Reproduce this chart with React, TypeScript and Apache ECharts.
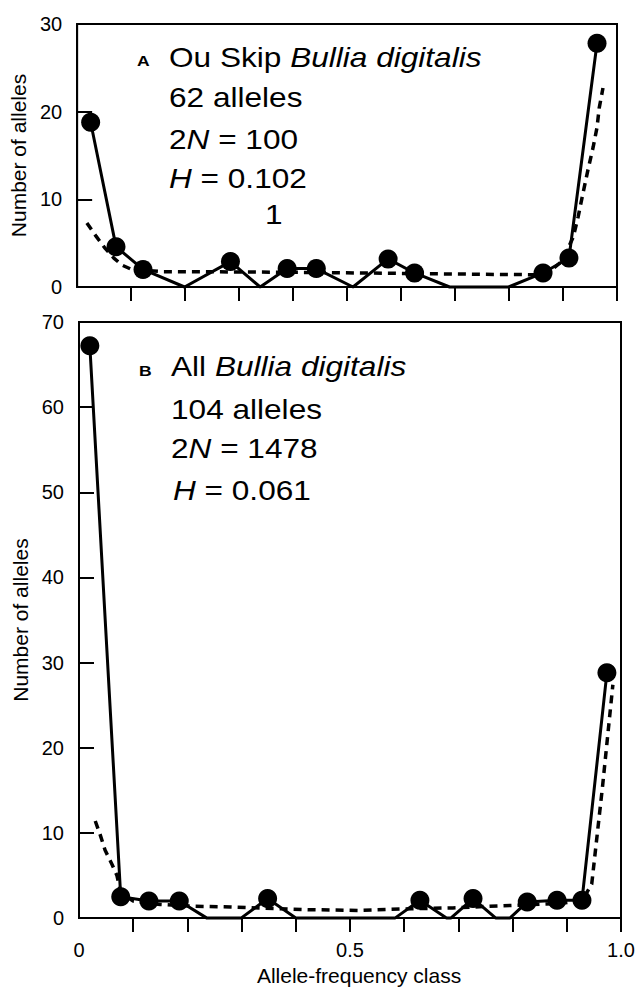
import React, { useEffect, useRef } from 'react';
import * as echarts from 'echarts';

const FONT = '"Liberation Sans", Arial, Helvetica, sans-serif';

// ---- Panel A: Ou Skip Bullia digitalis ----
const aObsX = [0.025, 0.072, 0.122, 0.199, 0.284, 0.339, 0.389, 0.443, 0.511, 0.576, 0.625, 0.69, 0.799, 0.863, 0.911, 0.963];
const aObsY = [18.8, 4.6, 2.0, 0, 2.9, 0, 2.1, 2.1, 0, 3.2, 1.6, 0, 0, 1.6, 3.3, 27.8];
const aExpX = [0.018, 0.035, 0.052, 0.068, 0.083, 0.101, 0.157, 0.3, 0.45, 0.6, 0.75, 0.849, 0.876, 0.899, 0.919, 0.928, 0.937, 0.946, 0.956, 0.963, 0.967, 0.974];
const aExpY = [7.3, 5.8, 4.4, 3.3, 2.5, 2.0, 1.75, 1.72, 1.65, 1.55, 1.45, 1.4, 1.8, 3.0, 5.7, 8.0, 10.7, 13.3, 16.0, 18.2, 20.4, 22.7];

// ---- Panel B: All Bullia digitalis ----
const bObsX = [0.02, 0.077, 0.129, 0.185, 0.236, 0.299, 0.348, 0.4, 0.583, 0.629, 0.678, 0.686, 0.727, 0.769, 0.795, 0.827, 0.882, 0.928, 0.974];
const bObsY = [67.2, 2.5, 2.0, 2.0, 0, 0, 2.3, 0, 0, 2.1, 0, 0, 2.3, 0, 0, 1.9, 2.1, 2.1, 28.8];
const bExpX = [0.03, 0.039, 0.048, 0.061, 0.07, 0.077, 0.1, 0.15, 0.21, 0.28, 0.417, 0.515, 0.613, 0.69, 0.803, 0.88, 0.928, 0.946, 0.966, 0.985];
const bExpY = [11.4, 9.8, 8.0, 6.3, 5.0, 3.0, 2.0, 1.6, 1.4, 1.3, 1.0, 0.9, 1.1, 1.2, 1.5, 1.7, 2.0, 4.0, 15.5, 27.4];

const xTickValues = [0.1, 0.2, 0.3, 0.4, 0.5, 0.6, 0.7, 0.8, 0.9, 1.0];
const xLabelValues = [0, 0.5, 1];
const yMaxA = 30;
const yMaxB = 70;

const xTitle = 'Allele-frequency class';
const yTitle = 'Number of alleles';

const pairs = (xs: number[], ys: number[]) => xs.map((x, i) => [x, ys[i]]);
const dots = (xs: number[], ys: number[]) => xs.map((x, i) => [x, ys[i]]).filter((p) => p[1] > 0);

const black = '#000';
const axisLineStyle = { color: black, width: 2 };

function makeX(gridIndex: number, showLabels: boolean) {
  return {
    gridIndex,
    type: 'value',
    min: 0,
    max: 1,
    interval: 0.1,
    axisLine: { show: true, lineStyle: axisLineStyle },
    axisTick: { show: true, inside: false, length: 14, lineStyle: axisLineStyle, customValues: xTickValues },
    axisLabel: showLabels
      ? {
          show: true,
          customValues: xLabelValues,
          formatter: (v: number) => (v === 1 ? '1.0' : v === 0 ? '0' : String(v)),
          fontSize: 20,
          color: black,
          fontFamily: FONT,
          margin: 22,
        }
      : { show: false },
    splitLine: { show: false },
    ...(showLabels
      ? {
          name: xTitle,
          nameLocation: 'middle',
          nameGap: 41,
          nameTextStyle: { fontSize: 21, color: black, fontFamily: FONT, padding: [0, 0, 0, 18] },
        }
      : {}),
  };
}

function makeY(gridIndex: number, max: number, gap: number) {
  return {
    gridIndex,
    type: 'value',
    min: 0,
    max,
    interval: 10,
    axisLine: { show: true, lineStyle: axisLineStyle },
    axisTick: { show: true, inside: true, length: 15, lineStyle: axisLineStyle },
    axisLabel: { fontSize: 20, color: black, fontFamily: FONT, margin: 15 },
    splitLine: { show: false },
    name: yTitle,
    nameLocation: 'middle',
    nameGap: gap,
    nameTextStyle: { fontSize: 21, color: black, fontFamily: FONT },
  };
}

function label(x: number, y: number, text: string, size = 27, bold = false) {
  return {
    type: 'text',
    x,
    y,
    scaleX: 1.17,
    style: {
      text,
      fontSize: size,
      fontFamily: FONT,
      fontWeight: bold ? 'bold' : 'normal',
      fill: black,
      verticalAlign: 'middle',
      align: 'left',
      rich: {
        i: { fontStyle: 'italic', fontSize: size, fontFamily: FONT, fill: black },
      },
    },
  };
}

export default function App() {
  const ref = useRef<HTMLDivElement>(null);
  useEffect(() => {
    if (!ref.current) return;
    const chart = echarts.init(ref.current, null, { renderer: 'svg' });
    const lineSeries = (xi: number, xs: number[], ys: number[], dashed: boolean) => ({
      type: 'line',
      xAxisIndex: xi,
      yAxisIndex: xi,
      data: pairs(xs, ys),
      symbol: 'none',
      clip: false,
      lineStyle: dashed
        ? { color: black, width: 3.5, type: [8, 6], cap: 'butt', opacity: 1 }
        : { color: black, width: 3, opacity: 1 },
      z: dashed ? 2 : 3,
    });
    const dotSeries = (xi: number, xs: number[], ys: number[]) => ({
      type: 'scatter',
      xAxisIndex: xi,
      yAxisIndex: xi,
      data: dots(xs, ys),
      symbol: 'circle',
      symbolSize: 19,
      clip: false,
      itemStyle: { color: black, opacity: 1 },
      z: 4,
    });
    chart.setOption({
      animation: false,
      backgroundColor: '#fff',
      textStyle: { fontFamily: FONT },
      grid: [
        { left: 75, top: 24, width: 542, height: 263, show: true, borderColor: black, borderWidth: 2 },
        { left: 79, top: 322, width: 542, height: 608, show: true, borderColor: black, borderWidth: 2 },
      ],
      xAxis: [makeX(0, false), makeX(1, true)],
      yAxis: [makeY(0, yMaxA, 36), makeY(1, yMaxB, 40)],
      series: [
        lineSeries(0, aExpX, aExpY, true),
        lineSeries(0, aObsX, aObsY, false),
        dotSeries(0, aObsX, aObsY),
        lineSeries(1, bExpX, bExpY, true),
        lineSeries(1, bObsX, bObsY, false),
        dotSeries(1, bObsX, bObsY),
      ],
      graphic: [
        label(137, 60, 'A', 15, true),
        label(169, 57, 'Ou Skip {i|Bullia digitalis}'),
        label(169, 97, '62 alleles'),
        label(169, 139.5, '2{i|N} = 100'),
        label(169, 178.5, '{i|H} = 0.102'),
        label(265, 214, '1'),
        label(139, 370, 'B', 15, true),
        label(171, 366, 'All {i|Bullia digitalis}'),
        label(171, 409, '104 alleles'),
        label(171, 448.5, '2{i|N} = 1478'),
        label(173, 490, '{i|H} = 0.061'),
      ],
    });
    return () => chart.dispose();
  }, []);
  return (
    <div
      ref={ref}
      style={{ position: 'fixed', left: 0, top: 0, width: 641, height: 991, background: '#fff' }}
    />
  );
}
